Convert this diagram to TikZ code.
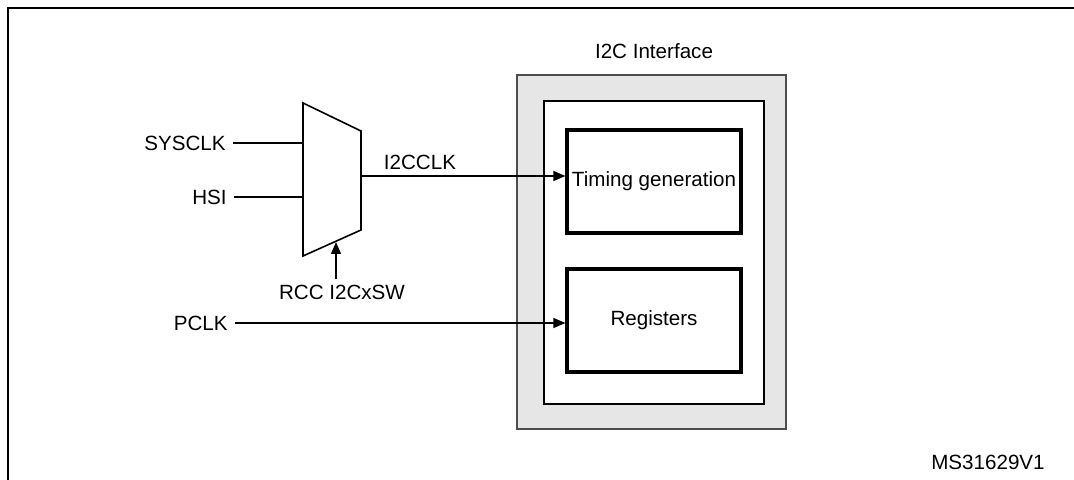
\documentclass[tikz,border=0pt]{standalone}
\usepackage{fontspec}
\setmainfont{Liberation Sans}
\usetikzlibrary{arrows.meta, positioning, calc}
\definecolor{ifgray}{HTML}{E6E6E6}
\definecolor{ifedge}{HTML}{4D4D4D}

\begin{document}
\begin{tikzpicture}[
  x=0.5pt, y=-0.5pt,
  lbl/.style={font=\fontsize{10.3}{12}\selectfont, inner xsep=3.5pt, inner ysep=2.5pt},
  blockbox/.style={rectangle, draw=black, line width=1.6pt, fill=white, minimum width=87pt, minimum height=51.5pt, inner sep=0pt, font=\fontsize{10.3}{12}\selectfont},
  ifbox/.style={rectangle, draw=#1, line width=0.6pt, inner sep=0pt},
  sig/.style={line width=0.6pt},
  sigarrow/.style={sig, -{Triangle[length=6pt,width=5pt]}}
]
  \useasboundingbox (0,0) rectangle (1074,480);
  % frame
  \draw[line width=1.3pt] (8,480) -- (8,8) -- (1074,8);

  % I2C interface
  \node[ifbox=ifedge, fill=ifgray, minimum width=134.5pt, minimum height=177pt] (outer) at (651.5,252) {};
  \node[ifbox=black, fill=white, minimum width=110pt, minimum height=151.5pt] (inner) at (654,252.5) {};
  \node[lbl] (title) at (654,51) {I2C Interface};
  \node[blockbox] (timing) at (654,181.5) {Timing generation};
  \node[blockbox] (regs) at (654,320.5) {Registers};

  % Mux
  \coordinate (mtl) at (303,103);
  \coordinate (mtr) at (361,131);
  \coordinate (mbr) at (361,230);
  \coordinate (mbl) at (303,256);
  \draw[line width=0.8pt, line join=miter] (mtl) -- (mtr) -- (mbr) -- (mbl) -- cycle;
  \coordinate (mout) at (361,176);
  \coordinate (msel) at (336,242);

  % Inputs
  \node[lbl, anchor=east] (sysclk) at (233,143) {SYSCLK};
  \node[lbl, anchor=east] (hsi) at (234,197) {HSI};
  \node[lbl, anchor=east] (pclk) at (235,323) {PCLK};
  \node[lbl] (rcc) at (342,292) {RCC I2CxSW};
  \node[lbl] (i2cclk) at (420,162) {I2CCLK};
  \node[lbl] (ref) at (988,462) {MS31629V1};

  % Connections
  \draw[sig] (sysclk.east) -- (sysclk.east -| mtl);
  \draw[sig] (hsi.east) -- (hsi.east -| mtl);
  \draw[sigarrow] (rcc.north -| msel) -- (msel);
  \draw[sigarrow] (mout) -- (mout -| timing.west);
  \draw[sigarrow] (pclk.east) -- (pclk.east -| regs.west);
\end{tikzpicture}
\end{document}
